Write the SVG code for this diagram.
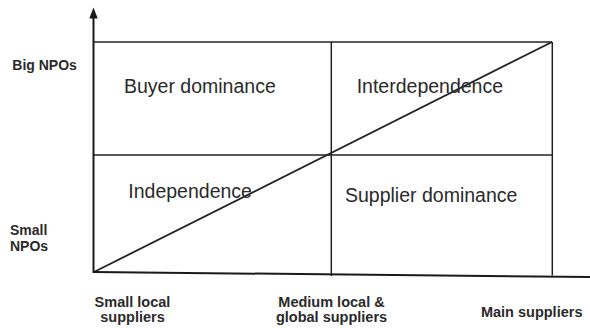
<svg xmlns="http://www.w3.org/2000/svg" width="590" height="328" viewBox="0 0 590 328">
  <style>
    .ln { stroke: #222; stroke-width: 1.5; fill: none; }
    .ax { stroke: #1a1a1a; stroke-width: 2; fill: none; }
    .q { font-family: "Liberation Sans", Arial, sans-serif; font-size: 19.5px; fill: #2a2a2a; }
    .lbl { font-family: "Liberation Sans", Arial, sans-serif; font-size: 14px; font-weight: bold; fill: #2a2a2a; }
    .blbl { font-family: "Liberation Sans", Arial, sans-serif; font-size: 14.5px; font-weight: bold; fill: #2a2a2a; text-anchor: middle; }
  </style>
  <rect width="590" height="328" fill="#fff"/>
  <g id="connectors">
    <line class="ln" x1="94" y1="42" x2="552" y2="42"/>
    <line class="ln" x1="94" y1="155" x2="552" y2="155"/>
    <line class="ln" x1="331.3" y1="42" x2="331.3" y2="276"/>
    <line class="ln" x1="552.3" y1="42" x2="552.3" y2="275.5"/>
    <line class="ln" x1="94" y1="272" x2="552" y2="42" style="stroke-width:1.8"/>
    <line class="ax" x1="93.5" y1="272" x2="590" y2="277"/>
    <line class="ax" x1="93.5" y1="273" x2="93.5" y2="16"/>
    <polygon points="89.3,18.5 97.7,18.5 93.5,7.5" fill="#1a1a1a"/>
  </g>
  <g id="buyer-dominance"><text class="q" x="124" y="93">Buyer dominance</text></g>
  <g id="interdependence"><text class="q" x="356.7" y="93">Interdependence</text></g>
  <g id="independence"><text class="q" x="128.3" y="197.5">Independence</text></g>
  <g id="supplier-dominance"><text class="q" x="345" y="201.7">Supplier dominance</text></g>
  <g id="big-npos"><text class="lbl" x="12.3" y="70">Big NPOs</text></g>
  <g id="small-npos"><text class="lbl" x="10" y="235">Small</text><text class="lbl" x="10" y="250.5">NPOs</text></g>
  <g id="small-local"><text class="blbl" x="132.5" y="306.7">Small local</text><text class="blbl" x="132.5" y="322">suppliers</text></g>
  <g id="medium-local"><text class="blbl" x="331.5" y="306.7">Medium local &amp;</text><text class="blbl" x="331.5" y="322">global suppliers</text></g>
  <g id="main-suppliers"><text class="blbl" x="531.7" y="316.7">Main suppliers</text></g>
</svg>
